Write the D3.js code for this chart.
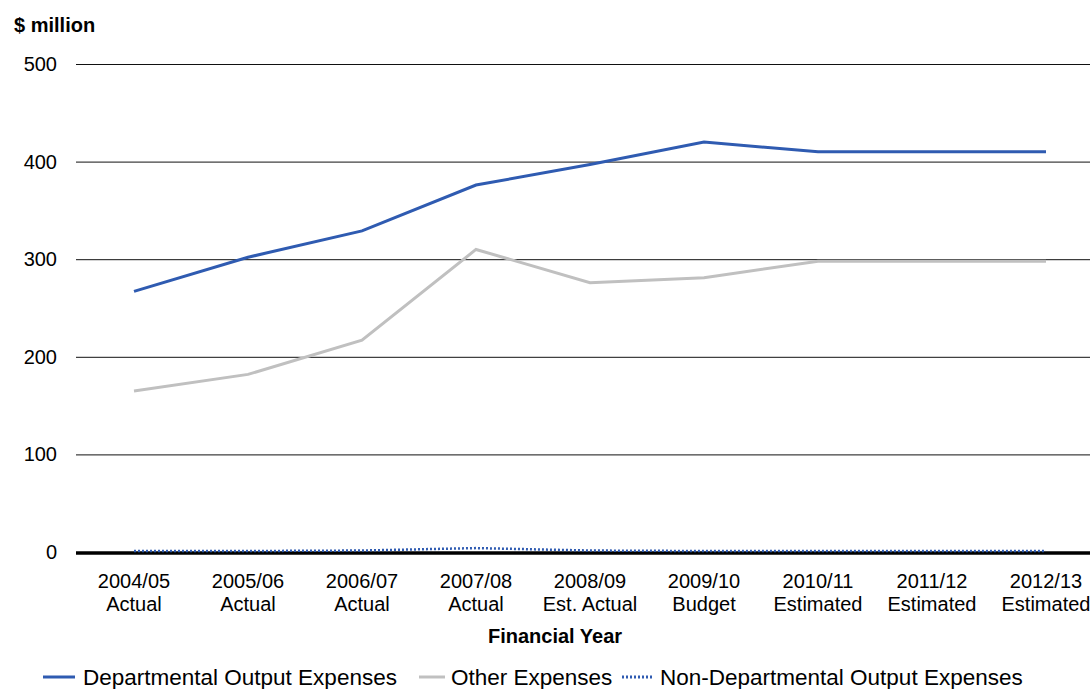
<!DOCTYPE html>
<html>
<head>
<meta charset="utf-8">
<script src="https://cdn.jsdelivr.net/npm/d3@7"></script>
<style>
  body { margin: 0; background: #fff; }
  svg { font-family: "Liberation Sans", Arial, sans-serif; }
</style>
</head>
<body>
<div id="chart"></div>
<script>
// categories (two-line labels)
const years = ['2004/05', '2005/06', '2006/07', '2007/08', '2008/09', '2009/10', '2010/11', '2011/12', '2012/13'];
const yearKinds = ['Actual', 'Actual', 'Actual', 'Actual', 'Est. Actual', 'Budget', 'Estimated', 'Estimated', 'Estimated'];

// series values, $ million
const departmental = [267, 302, 329, 376, 397, 420, 410, 410, 410];
const otherExpenses = [165, 182, 217, 310, 276, 281, 298, 298, 298];
const nonDepartmental = [1, 1, 1.5, 4, 1.5, 1, 1, 1, 1];

const yTicks = [0, 100, 200, 300, 400, 500];

const width = 1090, height = 689;

const svg = d3.select('#chart')
  .append('svg')
  .attr('width', width)
  .attr('height', height);

// scales
const x = d3.scalePoint()
  .domain(years)
  .range([134, 1046]);

const y = d3.scaleLinear()
  .domain([0, 500])
  .range([552, 64]);

const plotLeft = 76, plotRight = 1090;

// gridlines
svg.append('g')
  .selectAll('line')
  .data(yTicks.filter(d => d > 0))
  .enter().append('line')
  .attr('x1', plotLeft)
  .attr('x2', plotRight)
  .attr('y1', d => y(d) + 0.5)
  .attr('y2', d => y(d) + 0.5)
  .style('stroke', '#111')
  .style('stroke-width', 1);

// y tick labels
svg.append('g')
  .selectAll('text')
  .data(yTicks)
  .enter().append('text')
  .attr('x', 57)
  .attr('y', d => y(d) + 7)
  .style('text-anchor', 'end')
  .style('font-size', '20px')
  .style('fill', '#000')
  .text(d => d);

// unit label
svg.append('text')
  .attr('x', 14)
  .attr('y', 32)
  .style('font-size', '20px')
  .style('font-weight', 'bold')
  .text('$ million');

// series lines
const line = d3.line()
  .x((d, i) => x(years[i]))
  .y(d => y(d));

svg.append('path')
  .datum(otherExpenses)
  .attr('d', line)
  .style('fill', 'none')
  .style('stroke', '#c0c0c0')
  .style('stroke-width', 3);

svg.append('path')
  .datum(departmental)
  .attr('d', line)
  .style('fill', 'none')
  .style('stroke', '#2f5bb1')
  .style('stroke-width', 3);

// zero axis line
svg.append('line')
  .attr('x1', plotLeft)
  .attr('x2', plotRight)
  .attr('y1', y(0) + 1)
  .attr('y2', y(0) + 1)
  .style('stroke', '#000')
  .style('stroke-width', 3.5);

svg.append('path')
  .datum(nonDepartmental)
  .attr('d', line)
  .style('fill', 'none')
  .style('stroke', '#2f5bb1')
  .style('stroke-width', 2.5)
  .style('stroke-dasharray', '2,2');

// x labels
const xLabels = svg.append('g')
  .selectAll('text')
  .data(years)
  .enter().append('text')
  .attr('x', d => x(d))
  .attr('y', 588)
  .style('text-anchor', 'middle')
  .style('font-size', '20px');

xLabels.append('tspan')
  .attr('x', d => x(d))
  .text(d => d);

xLabels.append('tspan')
  .attr('x', d => x(d))
  .attr('dy', 23)
  .text((d, i) => yearKinds[i]);

// x axis title
svg.append('text')
  .attr('x', 555)
  .attr('y', 643)
  .style('text-anchor', 'middle')
  .style('font-size', '20px')
  .style('font-weight', 'bold')
  .text('Financial Year');

// legend
const legendItems = [
  { name: 'Departmental Output Expenses', color: '#2f5bb1', dash: null, x1: 43, x2: 75, tx: 83 },
  { name: 'Other Expenses', color: '#c0c0c0', dash: null, x1: 419, x2: 445, tx: 451 },
  { name: 'Non-Departmental Output Expenses', color: '#2f5bb1', dash: '2,2', x1: 622, x2: 652, tx: 660 }
];

const legend = svg.append('g')
  .selectAll('g')
  .data(legendItems)
  .enter().append('g');

legend.append('line')
  .attr('x1', d => d.x1)
  .attr('x2', d => d.x2)
  .attr('y1', 677)
  .attr('y2', 677)
  .style('stroke', d => d.color)
  .style('stroke-width', 3)
  .style('stroke-dasharray', d => d.dash);

legend.append('text')
  .attr('x', d => d.tx)
  .attr('y', 685)
  .style('font-size', '22.5px')
  .text(d => d.name);
</script>
</body>
</html>
